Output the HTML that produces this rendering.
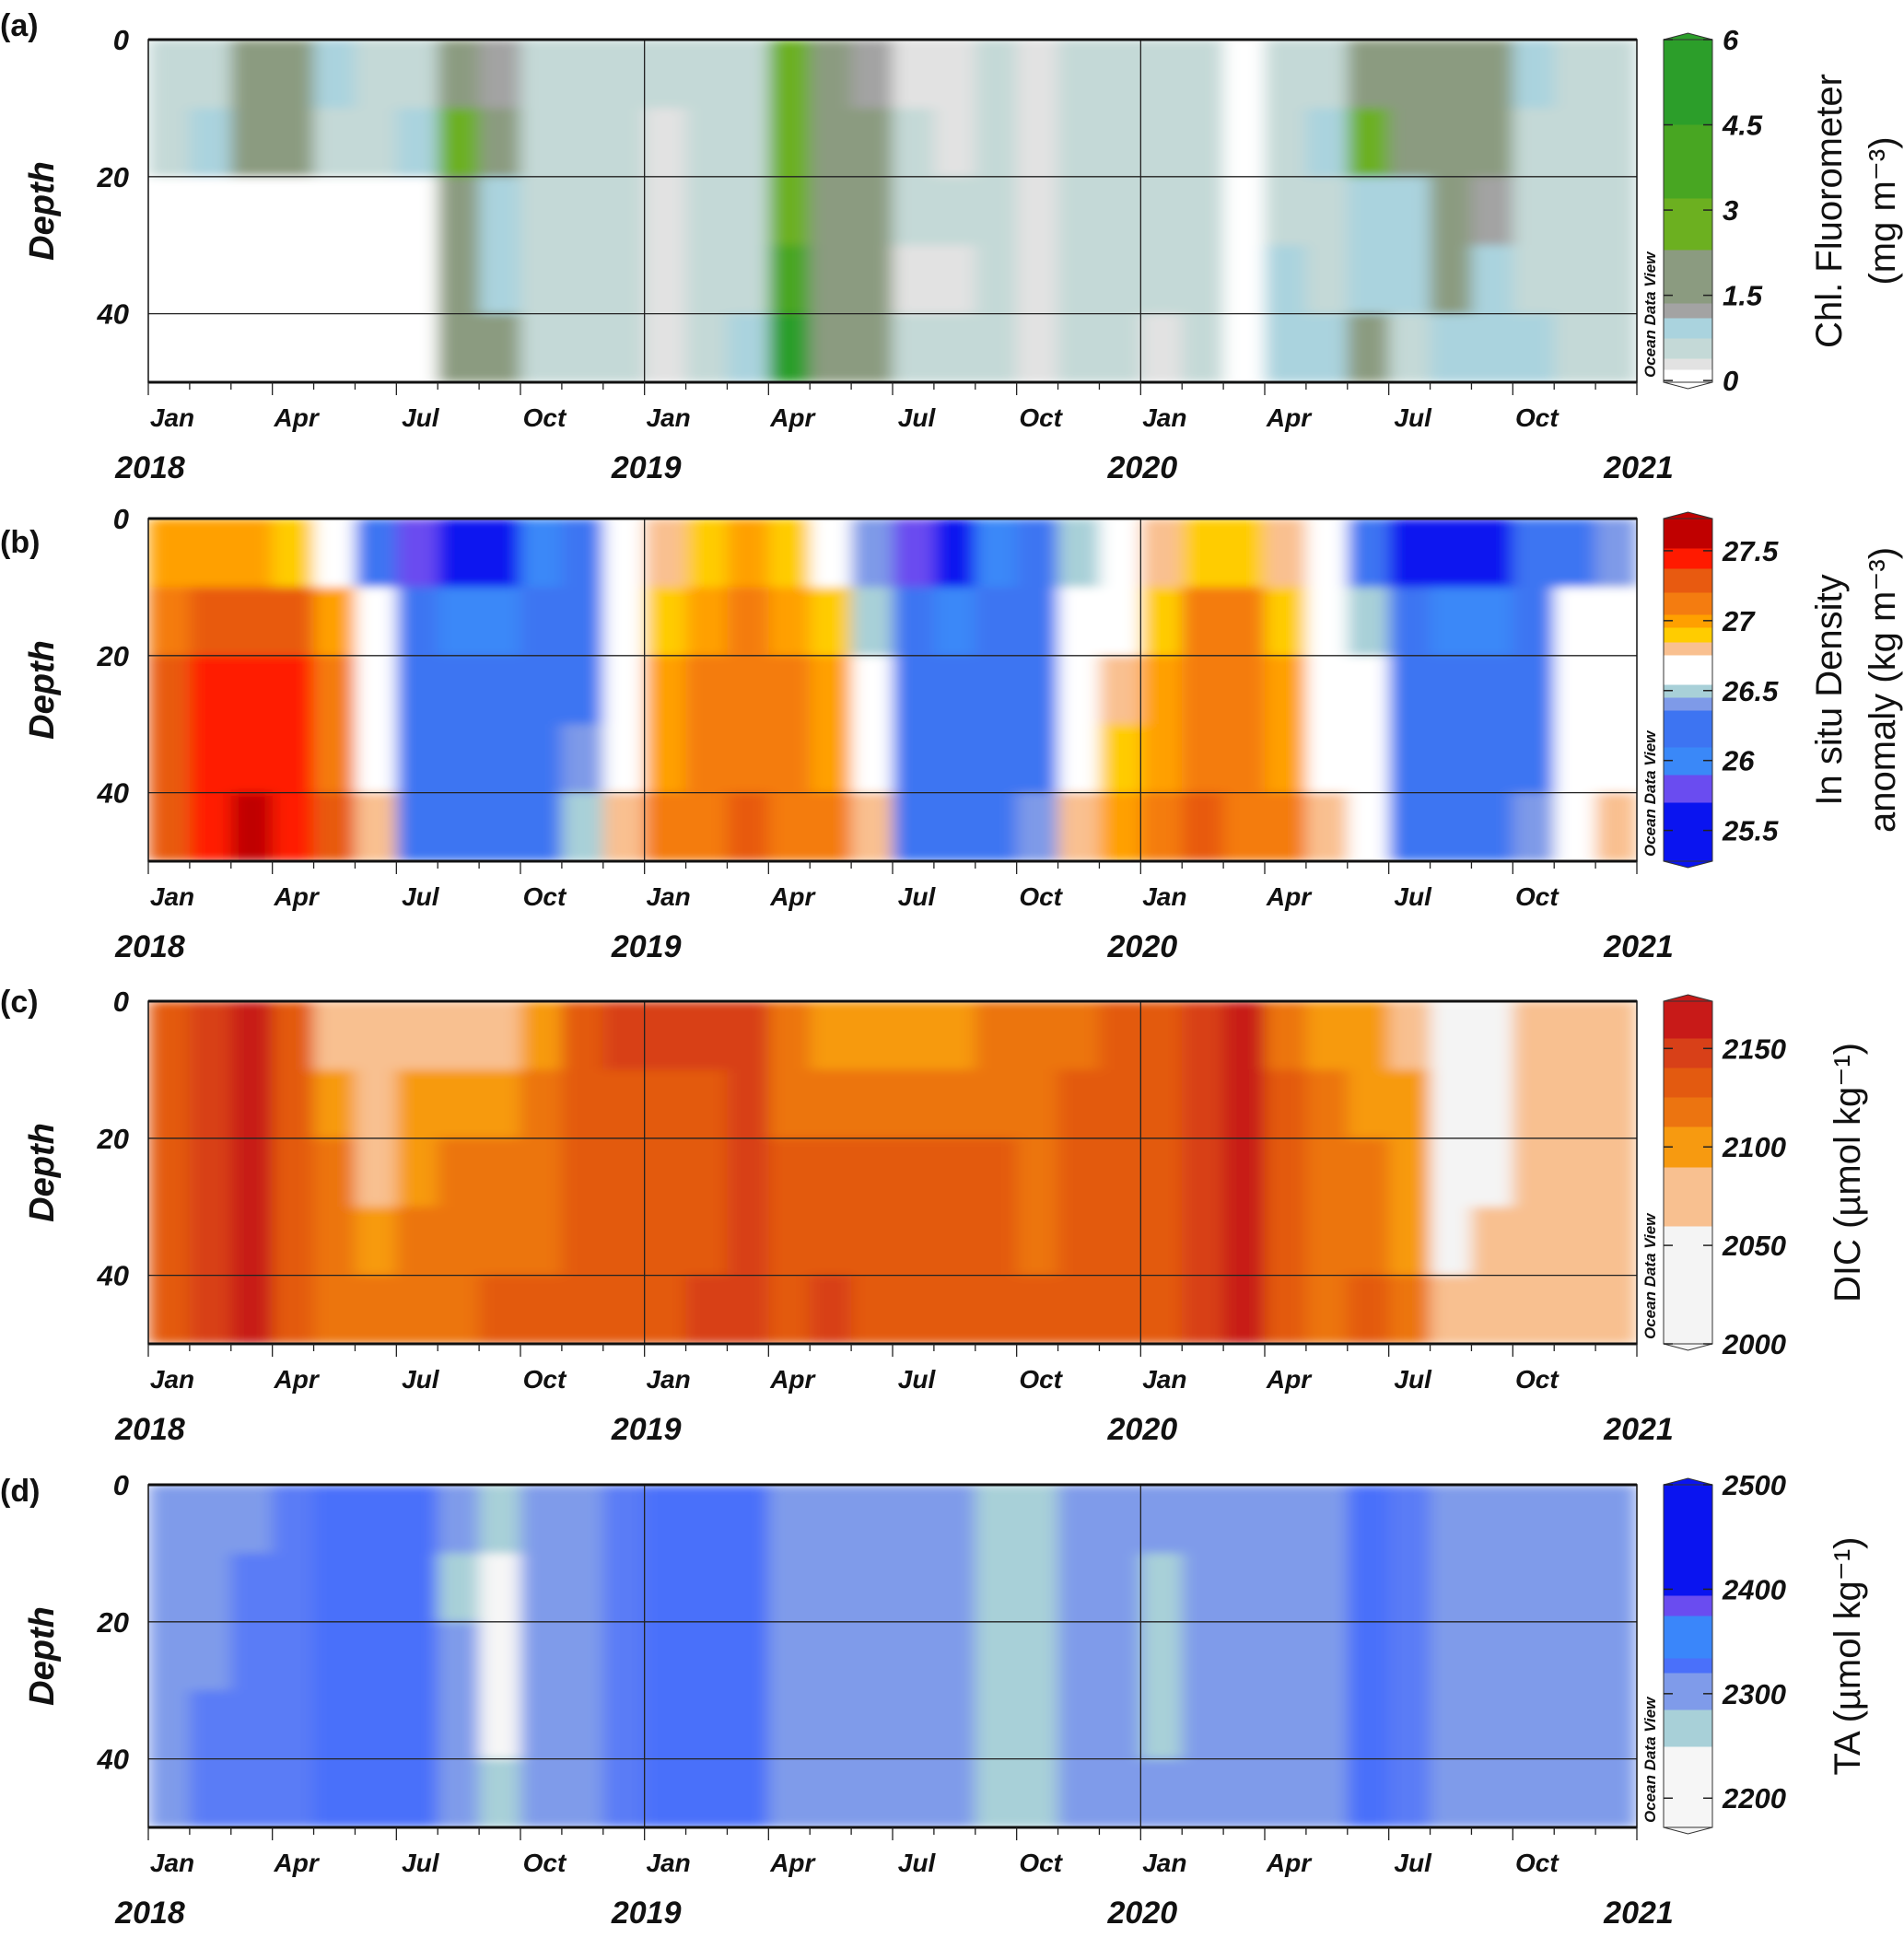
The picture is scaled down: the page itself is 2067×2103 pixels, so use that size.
<!DOCTYPE html>
<html><head><meta charset="utf-8"><style>
html,body{margin:0;padding:0;background:#fff;}
svg{display:block;font-family:"Liberation Sans",sans-serif;}
</style></head><body>
<svg id="fig" width="2067" height="2103" viewBox="0 0 2067 2103" xmlns="http://www.w3.org/2000/svg">
<defs>
<filter id="soft" x="0" y="0" width="1" height="1" filterUnits="objectBoundingBox"><feGaussianBlur stdDeviation="9 5" edgeMode="duplicate"/></filter>
</defs>
</svg>
<script>
// ---------------- data (monthly, Jan 2018 .. Dec 2020; depths 5,15,25,35,45 m) ----------------
const months = ["Jan","Apr","Jul","Oct","Jan","Apr","Jul","Oct","Jan","Apr","Jul","Oct"];
const years = ["2018","2019","2020","2021"];
const depthTicks = [0,20,40];
const depthLevels = [5,15,25,35,45];
const chl = [
[.7,.7,null,null,null],[.7,.8,null,null,null],[1.5,1.5,null,null,null],[1.5,1.4,null,null,null],
[.8,.7,null,null,null],[.7,.6,null,null,null],[.4,.8,null,null,null],[2.0,3.0,1.5,1.5,1.8],
[1.3,1.4,.8,1.0,1.5],[.7,.7,.7,.7,.7],[.6,.6,.6,.6,.6],[.5,.4,.4,.4,.5],
[.4,.3,.3,.3,.3],[.4,.4,.4,.4,.4],[.6,.6,.6,.7,.8],[2.5,2.6,3.0,3.5,5.0],
[1.6,1.6,1.7,1.8,1.8],[1.2,1.4,1.6,1.6,1.5],[.3,.4,.4,.3,.7],[.3,.3,.4,.2,.6],
[.4,.5,.5,.5,.4],[.3,.3,.3,.3,.3],[.5,.5,.5,.5,.5],[.6,.6,.6,.5,.4],
[.6,.6,.6,.6,.3],[.5,.5,.5,.5,.5],[.1,.1,.1,.1,.1],[.4,.6,.6,.8,.8],
[.7,.8,.7,.7,.8],[2.0,2.5,1.0,.8,1.5],[1.6,1.8,.9,.9,.5],[1.6,1.6,1.6,1.7,.9],
[1.5,1.5,1.2,.8,.8],[.8,.6,.4,.5,.8],[.7,.7,.7,.7,.7],[.7,.7,.7,.7,.7]];
const dens = [
[27.0,27.1,27.2,27.2,27.2],[27.0,27.3,27.4,27.4,27.45],[27.0,27.3,27.45,27.45,27.55],[26.9,27.2,27.4,27.4,27.45],
[26.6,27.0,27.1,27.15,27.2],[26.3,26.6,26.6,26.7,26.8],[25.7,26.2,26.2,26.2,26.3],[25.5,26.0,26.1,26.2,26.3],
[25.6,26.0,26.1,26.15,26.25],[25.9,26.1,26.15,26.2,26.3],[26.3,26.35,26.35,26.4,26.5],[26.6,26.6,26.6,26.7,26.8],
[26.8,26.9,26.95,27.0,27.1],[26.9,27.0,27.1,27.1,27.15],[27.0,27.05,27.1,27.1,27.2],[26.9,27.0,27.05,27.1,27.15],
[26.7,26.85,27.0,27.0,27.05],[26.4,26.5,26.6,26.7,26.8],[25.8,26.2,26.2,26.25,26.35],[25.6,26.0,26.1,26.2,26.3],
[25.9,26.1,26.15,26.2,26.3],[26.2,26.2,26.3,26.35,26.4],[26.5,26.6,26.6,26.65,26.8],[26.6,26.7,26.8,26.9,27.0],
[26.8,26.9,27.0,27.0,27.1],[26.9,27.05,27.1,27.1,27.2],[26.9,27.05,27.1,27.1,27.15],[26.8,26.9,27.0,27.0,27.05],
[26.6,26.6,26.65,26.7,26.8],[26.3,26.5,26.55,26.6,26.7],[25.6,26.2,26.25,26.3,26.35],[25.5,25.9,26.1,26.2,26.3],
[25.6,26.0,26.1,26.2,26.3],[26.1,26.3,26.3,26.35,26.4],[26.3,26.55,26.6,26.6,26.7],[26.4,26.6,26.6,26.65,26.8]];
const dic = [
[2125,2130,2130,2130,2130],[2140,2140,2140,2140,2140],[2160,2160,2165,2160,2160],[2130,2125,2125,2125,2130],
[2080,2100,2110,2115,2120],[2075,2085,2085,2095,2120],[2075,2090,2100,2110,2120],[2075,2100,2110,2115,2120],
[2075,2100,2110,2115,2125],[2100,2110,2115,2120,2125],[2130,2125,2125,2125,2130],[2140,2130,2130,2130,2135],
[2140,2130,2130,2130,2135],[2145,2135,2135,2135,2140],[2145,2140,2145,2145,2145],[2110,2120,2125,2130,2135],
[2100,2120,2130,2135,2140],[2095,2110,2125,2125,2125],[2100,2115,2125,2130,2130],[2090,2110,2125,2125,2130],
[2110,2120,2125,2125,2125],[2110,2115,2120,2120,2125],[2120,2125,2130,2130,2130],[2130,2130,2130,2130,2130],
[2135,2135,2135,2135,2135],[2145,2145,2150,2150,2150],[2155,2160,2170,2170,2160],[2120,2125,2130,2130,2130],
[2100,2110,2115,2120,2120],[2090,2100,2110,2115,2125],[2080,2095,2100,2105,2120],[2045,2050,2050,2050,2080],
[2045,2050,2050,2060,2080],[2075,2080,2080,2080,2080],[2080,2080,2080,2080,2080],[2080,2080,2080,2080,2080]];
const ta = [
[2300,2300,2300,2300,2300],[2300,2310,2310,2320,2320],[2310,2330,2330,2330,2330],[2330,2330,2330,2330,2330],
[2340,2340,2340,2340,2340],[2340,2340,2340,2340,2340],[2340,2340,2340,2340,2340],[2300,2280,2300,2300,2300],
[2260,2230,2230,2230,2270],[2300,2300,2300,2300,2300],[2300,2310,2310,2310,2300],[2330,2330,2330,2330,2330],
[2340,2340,2340,2340,2340],[2345,2345,2345,2345,2345],[2340,2340,2340,2340,2340],[2300,2300,2300,2300,2300],
[2300,2300,2300,2300,2300],[2300,2300,2300,2300,2300],[2300,2300,2300,2300,2300],[2300,2300,2300,2300,2300],
[2270,2270,2260,2270,2270],[2270,2270,2270,2270,2270],[2300,2300,2300,2300,2300],[2300,2300,2300,2300,2300],
[2300,2270,2270,2270,2300],[2300,2300,2300,2300,2300],[2300,2300,2300,2300,2300],[2300,2300,2300,2300,2300],
[2300,2300,2300,2300,2300],[2340,2340,2340,2340,2340],[2330,2330,2330,2330,2330],[2300,2300,2300,2300,2300],
[2300,2300,2300,2300,2300],[2300,2300,2300,2300,2300],[2300,2300,2300,2300,2300],[2300,2300,2300,2300,2300]];
const cbTicksA = [0,1.5,3,4.5,6];
const cbTicksB = [25.5,26,26.5,27,27.5];
const cbTicksC = [2000,2050,2100,2150];
const cbTicksD = [2200,2300,2400,2500];

// ---------------- colour maps ----------------
const cmapA = [[0.2,'#ffffff'],[0.4,'#e2e2e2'],[0.75,'#c4d9d7'],[1.1,'#aad3de'],[1.35,'#a3a3a3'],[2.3,'#8b9b80'],[3.2,'#6cb020'],[4.5,'#48a622'],[99,'#2c9e2a']];
const cmapB = [[25.7,'#0a14f0'],[25.9,'#6a4cf0'],[26.1,'#3a88f8'],[26.36,'#3d74f2'],[26.45,'#7e9ae8'],[26.55,'#a8d0d8'],[26.75,'#ffffff'],[26.85,'#f9c090'],[26.95,'#ffcc00'],[27.05,'#ffa000'],[27.2,'#f47c10'],[27.38,'#e85a10'],[27.52,'#ff1a00'],[99,'#c00000']];
const cmapC = [[2060,'#f4f4f4'],[2090,'#f8c090'],[2110,'#f79a10'],[2125,'#ec7410'],[2140,'#e35a10'],[2155,'#d84018'],[99999,'#c81a18']];
const cmapD = [[2250,'#f6f6f6'],[2285,'#a8d0d8'],[2320,'#7f9bea'],[2335,'#5a7cf6'],[2375,'#4a70fa'],[2395,'#6a4cf0'],[99999,'#0a14f0']];
const cmapDbar = [[2250,'#f6f6f6'],[2285,'#a8d0d8'],[2320,'#7f9bea'],[2335,'#4a70fa'],[2375,'#3a86fa'],[2395,'#6a4cf0'],[99999,'#0a14f0']];
function cmap(m,v){for(const [t,c] of m){if(v<t)return c;}return m[m.length-1][1];}

// ---------------- layout ----------------
const NS="http://www.w3.org/2000/svg";
const svg=document.getElementById('fig');
function mk(tag,attrs,parent){const e=document.createElementNS(NS,tag);for(const k in attrs)e.setAttribute(k,attrs[k]);(parent||svg).appendChild(e);return e;}
const X0=161,X1=1777,H=372,NM=36;
const xScale=m=>X0+(X1-X0)*m/NM;
const yScale=(T,d)=>T+H*d/50;

const panels=[
 {id:'a',T:43,data:chl,cm:cmapA,cb:cmapA,lab:'(a)',labY:27,ticks:cbTicksA,vmin:-0.03,vmax:6,title:['Chl. Fluorometer','(mg m\u207B\u00B3)']},
 {id:'b',T:563,data:dens,cm:cmapB,cb:cmapB,lab:'(b)',labY:588,ticks:cbTicksB,vmin:25.28,vmax:27.73,title:['In situ Density','anomaly (kg m\u207B\u00B3)']},
 {id:'c',T:1087,data:dic,cm:cmapC,cb:cmapC,lab:'(c)',labY:1087,ticks:cbTicksC,vmin:2000,vmax:2174,title:['DIC (\u00B5mol kg\u207B\u00B9)']},
 {id:'d',T:1612,data:ta,cm:cmapD,cb:cmapDbar,lab:'(d)',labY:1618,ticks:cbTicksD,vmin:2172,vmax:2500,title:['TA (\u00B5mol kg\u207B\u00B9)']}
];

panels.forEach(p=>{
  const g=mk('g',{});
  
  
  const T=p.T;
  const hm=mk('g',{filter:'url(#soft)'},g);
  
  
  p.data.forEach((col,mi)=>{
    col.forEach((v,di)=>{
      const d0=di===0?0:(depthLevels[di-1]+depthLevels[di])/2;
      const d1=di===col.length-1?50:(depthLevels[di]+depthLevels[di+1])/2;
      const x=xScale(mi),w=xScale(mi+1)-x+0.6;
      const y=yScale(T,d0),h=Math.min(yScale(T,d1),T+H)-y+(di===col.length-1?0:0.6);
      const r=mk('rect',{x:x,y:y,width:Math.min(w,X1-x),height:h,fill:v===null?'#ffffff':cmap(p.cm,v)},hm);
      
      
    });
  });
  depthTicks.slice(1).forEach(d=>{const l=mk('line',{x1:X0,x2:X1,y1:yScale(T,d),y2:yScale(T,d),stroke:'#222','stroke-width':1.3},g);});
  [12,24].forEach(m=>{const l=mk('line',{x1:xScale(m),x2:xScale(m),y1:T,y2:T+H,stroke:'#222','stroke-width':1.3},g);});
  const fr=mk('rect',{x:X0,y:T,width:X1-X0,height:H,fill:'none',stroke:'#111','stroke-width':1.5},g);
  
  mk('line',{x1:X0,x2:X1,y1:T,y2:T,stroke:'#111','stroke-width':3},g);
  mk('line',{x1:X0,x2:X1,y1:T+H,y2:T+H,stroke:'#111','stroke-width':3},g);
  for(let m=0;m<=NM;m++){
    const big=m%3===0;
    const l=mk('line',{x1:xScale(m),x2:xScale(m),y1:T+H,y2:T+H+(big?14:8),stroke:'#222','stroke-width':1.3},g);
    
  }
  months.forEach((mn,i)=>{
    const t=mk('text',{x:xScale(i*3)+26,y:T+H+48,'text-anchor':'middle','font-size':28,'font-weight':'bold','font-style':'italic',fill:'#111'},g);
    t.textContent=mn;
  });
  years.forEach((yr,i)=>{
    const t=mk('text',{x:xScale(i*12)+2,y:T+H+104,'text-anchor':'middle','font-size':34,'font-weight':'bold','font-style':'italic',fill:'#111'},g);
    t.textContent=yr;
  });
  depthTicks.forEach(d=>{
    const t=mk('text',{x:140,y:yScale(T,d)+11,'text-anchor':'end','font-size':31,'font-weight':'bold','font-style':'italic',fill:'#111'},g);
    t.textContent=d;
  });
  const yt=mk('text',{x:0,y:0,transform:`translate(58,${T+H/2}) rotate(-90)`,'text-anchor':'middle','font-size':38,'font-weight':'bold','font-style':'italic',fill:'#111'},g);
  yt.textContent='Depth';
  const pl=mk('text',{x:0,y:p.labY+12,'font-size':34,'font-weight':'bold',fill:'#111'},g);
  pl.textContent=p.lab;
  const cb=mk('g',{'shape-rendering':'crispEdges'},g);
  
  const CX=1806,CW=53,N=186;
  for(let i=0;i<N;i++){
    const v=p.vmin+(p.vmax-p.vmin)*(i+0.5)/N;
    const y=T+H-(i+1)*H/N;
    mk('rect',{x:CX,y:y,width:CW,height:H/N+0.6,fill:cmap(p.cb,v)},cb);
  }
  mk('rect',{x:CX,y:T,width:CW,height:H,fill:'none',stroke:'#333','stroke-width':1},g);
  mk('polygon',{points:`${CX},${T} ${CX+CW/2},${T-7} ${CX+CW},${T}`,fill:cmap(p.cb,p.vmax),stroke:'#333','stroke-width':1},g);
  mk('polygon',{points:`${CX},${T+H} ${CX+CW/2},${T+H+7} ${CX+CW},${T+H}`,fill:cmap(p.cb,p.vmin),stroke:'#333','stroke-width':1},g);
  p.ticks.forEach(v=>{
    const y=T+H-(v-p.vmin)/(p.vmax-p.vmin)*H;
    mk('line',{x1:CX,x2:CX+10,y1:y,y2:y,stroke:'#222','stroke-width':1.5},g);
    mk('line',{x1:CX+CW-10,x2:CX+CW,y1:y,y2:y,stroke:'#222','stroke-width':1.5},g);
    const t=mk('text',{x:1870,y:y+11,'font-size':31,'font-weight':'bold','font-style':'italic',fill:'#111'},g);
    t.textContent=v;
  });
  const odv=mk('text',{x:0,y:0,transform:`translate(1797,${T+H-5}) rotate(-90)`,'font-size':17,'font-weight':'bold','font-style':'italic',fill:'#111'},g);
  odv.textContent='Ocean Data View';
  const lines=p.title;
  lines.forEach((s,i)=>{
    const cx=lines.length===1?2005:1985+i*58;
    const t=mk('text',{x:0,y:0,transform:`translate(${cx+14},${T+H/2}) rotate(-90)`,'text-anchor':'middle','font-size':40,fill:'#111'},g);
    t.textContent=s;
  });
});
</script>
</body></html>
